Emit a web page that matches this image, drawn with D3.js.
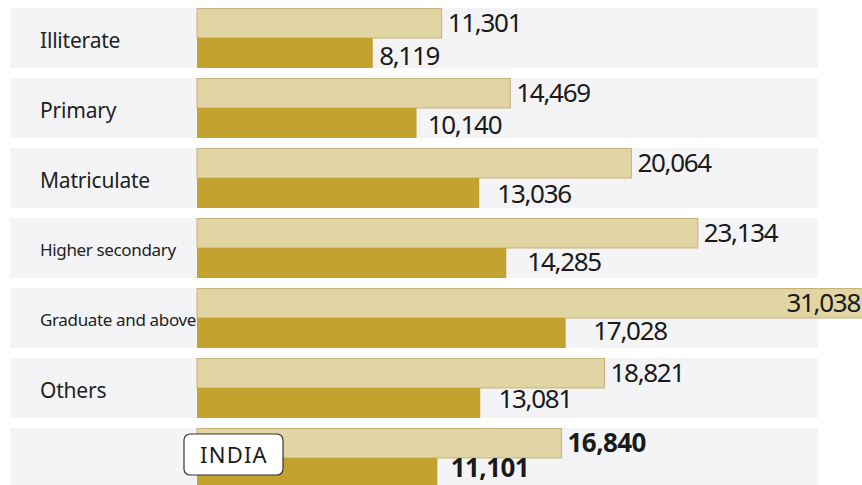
<!DOCTYPE html>
<html>
<head>
<meta charset="utf-8">
<script src="https://cdn.jsdelivr.net/npm/d3@7"></script>
<style>
  html, body { margin: 0; padding: 0; background: #ffffff; }
  svg { display: block; font-family: "Noto Sans", "Open Sans", sans-serif; }
</style>
</head>
<body>
<svg id="chart" width="862" height="485"></svg>
<script>
const categories = ["Illiterate", "Primary", "Matriculate", "Higher secondary", "Graduate and above", "Others", "INDIA"];
const lightValues = [11301, 14469, 20064, 23134, 31038, 18821, 16840];
const darkValues  = [8119, 10140, 13036, 14285, 17028, 13081, 11101];
const smallLabels = ["Higher secondary", "Graduate and above"];

const svg = d3.select("#chart");
const W = 862;

const y = d3.scaleBand()
  .domain(categories)
  .range([8, 488])
  .paddingInner(1 / 7)
  .paddingOuter(0);

// positions of dark-value labels (slightly tighter spacing than rows, as in the original)
const yDarkLabel = d3.scalePoint()
  .domain(categories)
  .range([56, 467.5]);

const x = d3.scaleLinear()
  .domain([0, 31038])
  .range([197, 869]);

// dark value labels sit on their own, slightly wider scale
const xDarkLabel = d3.scaleLinear()
  .domain([0, 31038])
  .range([184, 930]);

const fmt = d3.format(",");

const rows = svg.selectAll("g.row")
  .data(categories.map((c, i) => ({ c, i, a: lightValues[i], b: darkValues[i] })))
  .enter().append("g").attr("class", "row");

// row background bands
rows.append("rect")
  .attr("x", 10)
  .attr("y", d => y(d.c))
  .attr("width", 808)
  .attr("height", y.bandwidth())
  .attr("fill", "#f4f4f7");

const half = y.bandwidth() / 2;

// light bars
rows.append("rect")
  .attr("x", x(0))
  .attr("y", d => y(d.c) + 0.5)
  .attr("width", d => x(d.a) - x(0))
  .attr("height", half - 0.5)
  .attr("fill", "#e2d5a4")
  .attr("stroke", "#c4b27a")
  .attr("stroke-width", 1);

// dark bars
rows.append("rect")
  .attr("x", x(0))
  .attr("y", d => y(d.c) + half)
  .attr("width", d => x(d.b) - x(0))
  .attr("height", half)
  .attr("fill", "#c4a22f");

const isIndia = d => d.c === "INDIA";

// light value labels
rows.append("text")
  .attr("x", d => x(d.a) > W - 60 ? W - 2 : x(d.a) + 6)
  .attr("y", d => y(d.c) + half / 2)
  .attr("dy", "0.36em")
  .attr("text-anchor", d => x(d.a) > W - 60 ? "end" : "start")
  .attr("font-size", 26)
  .attr("font-weight", d => isIndia(d) ? 700 : 400)
  .attr("letter-spacing", d => isIndia(d) ? -0.6 : -1.3)
  .attr("fill", "#1a1a1a")
  .text(d => fmt(d.a));

// dark value labels
rows.append("text")
  .attr("x", d => xDarkLabel(d.b))
  .attr("y", d => yDarkLabel(d.c))
  .attr("dy", "0.36em")
  .attr("font-size", 26)
  .attr("font-weight", d => isIndia(d) ? 700 : 400)
  .attr("letter-spacing", d => isIndia(d) ? -0.6 : -1.3)
  .attr("fill", "#1a1a1a")
  .text(d => fmt(d.b));

// category labels
rows.filter(d => !isIndia(d)).append("text")
  .attr("x", 40)
  .attr("y", d => y(d.c) + half + 2)
  .attr("dy", "0.36em")
  .attr("font-size", d => smallLabels.includes(d.c) ? 17 : 21)
  .attr("letter-spacing", d => smallLabels.includes(d.c) ? -0.35 : -0.2)
  .attr("fill", "#222")
  .text(d => d.c);

// INDIA boxed label
const india = rows.filter(isIndia);
india.append("rect")
  .attr("x", 184)
  .attr("y", d => y(d.c) + 6)
  .attr("width", 99)
  .attr("height", 41)
  .attr("rx", 6)
  .attr("fill", "#ffffff")
  .attr("stroke", "#333")
  .attr("stroke-width", 1.2);
india.append("text")
  .attr("x", 234)
  .attr("y", d => y(d.c) + 27)
  .attr("dy", "0.36em")
  .attr("text-anchor", "middle")
  .attr("font-size", 22)
  .attr("letter-spacing", 1.2)
  .attr("fill", "#1a1a1a")
  .text(d => d.c);
</script>
</body>
</html>
